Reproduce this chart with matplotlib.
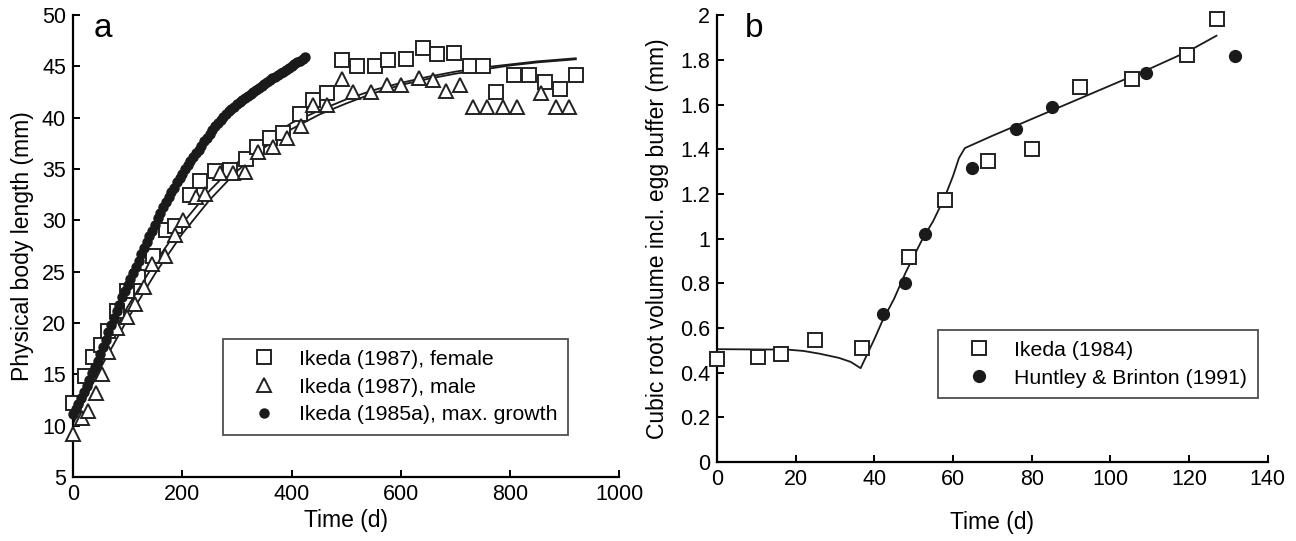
import matplotlib
matplotlib.use("Agg")
import matplotlib.pyplot as plt

plt.rcParams['font.family'] = ['Liberation Sans', 'DejaVu Sans']

# ---------------- Panel a data ----------------
fem_t = [0, 22, 36, 52, 64, 80, 98, 119, 146, 171, 186, 214, 232, 260, 287, 317, 336, 360,
         384, 415, 439, 464, 493, 520, 552, 576, 609, 640, 666, 698, 726, 750, 774, 807,
         835, 864, 892, 921]
fem_L = [12.2, 14.9, 16.7, 17.9, 19.2, 21.2, 23.1, 24.5, 26.5, 29.1, 29.5, 32.5, 33.8, 34.8,
         34.9, 36.0, 37.2, 38.0, 38.5, 40.4, 41.7, 42.4, 45.6, 45.0, 45.0, 45.6, 45.7, 46.8,
         46.2, 46.3, 45.0, 45.0, 42.5, 44.2, 44.2, 43.5, 42.8, 44.2]

male_t = [0, 16, 28, 43, 53, 65, 80, 98, 113, 130, 145, 168, 186, 202, 226, 241, 269, 293,
          314, 339, 366, 391, 418, 439, 464, 492, 513, 546, 574, 600, 634, 658, 683, 708,
          732, 758, 786, 813, 856, 883, 908]
male_L = [9.2, 10.8, 11.4, 13.2, 15.0, 17.2, 19.5, 20.6, 21.9, 23.5, 25.8, 26.5, 28.6, 30.0,
          32.3, 32.6, 34.6, 34.6, 34.7, 36.7, 37.2, 38.0, 39.2, 41.2, 41.2, 43.8, 42.5, 42.5,
          43.2, 43.2, 43.9, 43.7, 42.6, 43.2, 41.1, 41.1, 41.1, 41.1, 42.4, 41.1, 41.1]

max_t = [0, 5, 10, 15, 20, 25, 30, 35, 40, 45, 50, 55, 60, 65, 70, 75, 80, 85, 90, 95, 100,
         105, 110, 115, 120, 125, 130, 135, 140, 145, 150, 155, 160, 165, 170, 175, 180, 185,
         190, 195, 200, 205, 210, 215, 220, 225, 230, 235, 240, 245, 250, 255, 260, 265, 270,
         275, 280, 285, 290, 295, 300, 305, 310, 315, 320, 325, 330, 335, 340, 345, 350, 355,
         360, 365, 370, 375, 380, 385, 390, 395, 400, 405, 410, 415, 420, 425]
max_L = [11.2, 11.6, 12.1, 12.7, 13.3, 13.9, 14.5, 15.1, 15.7, 16.3, 17.0, 17.7, 18.4, 19.1,
         19.8, 20.5, 21.2, 21.8, 22.5, 23.1, 23.7, 24.3, 24.9, 25.5, 26.1, 26.7, 27.3, 27.9,
         28.5, 29.0, 29.6, 30.2, 30.7, 31.3, 31.8, 32.3, 32.8, 33.2, 33.7, 34.1, 34.5, 35.0,
         35.4, 35.8, 36.2, 36.6, 36.9, 37.3, 37.7, 38.0, 38.4, 38.8, 39.2, 39.5, 39.8, 40.1,
         40.4, 40.7, 40.9, 41.1, 41.3, 41.5, 41.7, 41.9, 42.1, 42.3, 42.5, 42.7, 42.9, 43.1,
         43.3, 43.5, 43.7, 43.9, 44.0, 44.2, 44.4, 44.5, 44.7, 44.9, 45.0, 45.2, 45.4, 45.5,
         45.7, 45.9]

fit_t = [0, 50, 100, 150, 200, 250, 300, 350, 400, 450, 500, 550, 600, 650, 700, 750, 800,
         850, 920]
fit_fem = [10.8, 16.7, 21.6, 25.9, 29.7, 32.9, 35.6, 37.8, 39.5, 40.7, 41.8, 42.7, 43.4,
           44.0, 44.5, 44.9, 45.2, 45.5, 45.8]
fit_male = [10.2, 15.6, 20.4, 24.8, 28.7, 32.0, 34.8, 37.1, 38.9, 40.3, 41.4, 42.4, 43.2,
            43.8, 44.3, 44.7, 45.1, 45.4, 45.7]

# ---------------- Panel b data ----------------
ik84_t = [0, 10.5, 16.3, 25, 36.9, 48.7, 58, 68.9, 80.2, 92.2, 105.4, 119.6, 127.1]
ik84_V = [0.461, 0.469, 0.484, 0.548, 0.512, 0.918, 1.174, 1.347, 1.402, 1.679, 1.714, 1.82, 1.984]

hb_t = [42.2, 47.8, 52.9, 64.9, 76.1, 85.2, 109, 131.8]
hb_V = [0.662, 0.802, 1.022, 1.317, 1.49, 1.588, 1.743, 1.815]

mod_t = [0, 18, 22, 26, 31, 34, 36.5, 40, 42, 45, 48, 52, 55, 58, 60, 61.5, 63, 70, 80, 90,
         100, 110, 120, 127]
mod_V = [0.505, 0.503, 0.497, 0.485, 0.466, 0.448, 0.42, 0.55, 0.63, 0.73, 0.85, 0.99, 1.08,
         1.19, 1.28, 1.36, 1.405, 1.46, 1.535, 1.61, 1.685, 1.76, 1.84, 1.908]

fig = plt.figure(figsize=(12.96, 5.41), dpi=100)
axa = fig.add_axes([0.0563, 0.118, 0.4217, 0.854])
axb = fig.add_axes([0.5533, 0.146, 0.4248, 0.826])

def style(ax):
    for s in ['top', 'right']:
        ax.spines[s].set_visible(False)
    for s in ['left', 'bottom']:
        ax.spines[s].set_linewidth(1.6)
    ax.tick_params(direction='in', length=5, width=1.4, labelsize=15.5, pad=5)

leg_kw = dict(loc='upper left', fontsize=15.3, frameon=True, fancybox=False,
              edgecolor='#222222', handletextpad=0.22, borderpad=0.5, labelspacing=0.42,
              handlelength=2.86, borderaxespad=0.0)

# Panel a
axa.plot(fit_t, fit_fem, color='#1a1a1a', lw=1.3, zorder=2)
axa.plot(fit_t, fit_male, color='#1a1a1a', lw=1.3, zorder=2)
axa.plot(fem_t, fem_L, ls='none', marker='s', ms=9.5, mfc='white', mec='#222222', mew=1.4,
         label='Ikeda (1987), female', zorder=3, clip_on=False)
axa.plot(male_t, male_L, ls='none', marker='^', ms=10.5, mfc='white', mec='#222222', mew=1.4,
         label='Ikeda (1987), male', zorder=3, clip_on=False)
axa.plot(max_t, max_L, ls='none', marker='o', ms=6.5, mfc='#1a1a1a', mec='#1a1a1a',
         label='Ikeda (1985a), max. growth', zorder=4, clip_on=False)
axa.set_xlim(0, 1000)
axa.set_ylim(5, 50)
axa.set_xticks(range(0, 1001, 200))
axa.set_yticks(range(5, 51, 5))
style(axa)
axa.set_xlabel('Time (d)', fontsize=16.5, labelpad=3)
axa.set_ylabel('Physical body length (mm)', fontsize=16.5, labelpad=6)
axa.text(0.037, 1.005, 'a', transform=axa.transAxes, fontsize=24, va='top', ha='left')
lega = axa.legend(bbox_to_anchor=(0.2745, 0.299), **leg_kw)
lega.get_frame().set_linewidth(1.3)

# Panel b
axb.plot(mod_t, mod_V, color='#1a1a1a', lw=1.3, zorder=2)
axb.plot(ik84_t, ik84_V, ls='none', marker='s', ms=9.5, mfc='white', mec='#222222', mew=1.4,
         label='Ikeda (1984)', zorder=3, clip_on=False)
axb.plot(hb_t, hb_V, ls='none', marker='o', ms=8.5, mfc='#1a1a1a', mec='#1a1a1a',
         label='Huntley & Brinton (1991)', zorder=3, clip_on=False)
axb.set_xlim(0, 140)
axb.set_ylim(0, 2)
axb.set_xticks(range(0, 141, 20))
yt = [0, 0.2, 0.4, 0.6, 0.8, 1, 1.2, 1.4, 1.6, 1.8, 2]
axb.set_yticks(yt)
axb.set_yticklabels(['0', '0.2', '0.4', '0.6', '0.8', '1', '1.2', '1.4', '1.6', '1.8', '2'])
style(axb)
axb.set_xlabel('Time (d)', fontsize=16.5, labelpad=15)
axb.set_ylabel('Cubic root volume incl. egg buffer (mm)', fontsize=16.5, labelpad=8)
axb.text(0.05, 1.005, 'b', transform=axb.transAxes, fontsize=24, va='top', ha='left')
legb = axb.legend(bbox_to_anchor=(0.401, 0.2954), **leg_kw)
legb.get_frame().set_linewidth(1.3)

fig.savefig('out.png', dpi=100)
